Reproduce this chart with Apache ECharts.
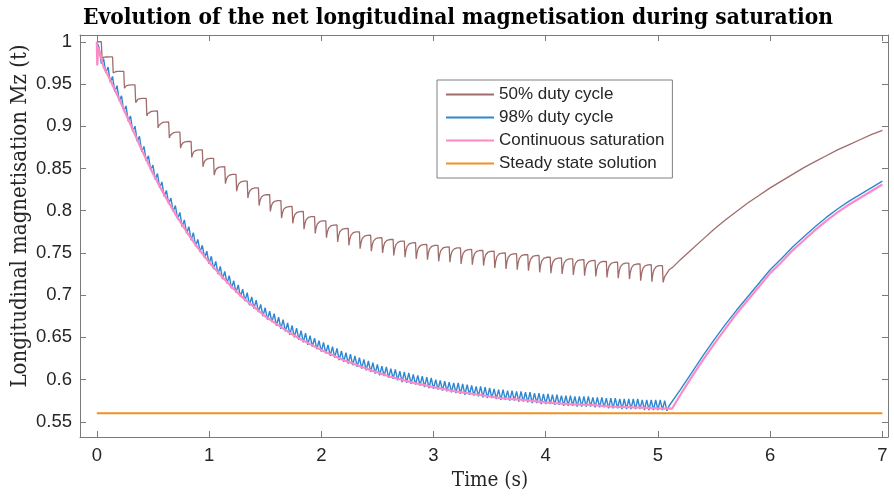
<!DOCTYPE html>
<html>
<head>
<meta charset="utf-8">
<script src="https://cdn.jsdelivr.net/npm/echarts@6/dist/echarts.min.js"></script>
<style>
  html, body { margin: 0; background: #fff; }
  #chart { width: 894px; height: 498px; }
</style>
</head>
<body>
<div id="chart"></div>
<script>
// 50% duty cycle: one saturation burst every 0.1 s, first one at 0.04 s
const duty50Start = 0.04
const duty50Period = 0.1
// level just before each burst
const duty50Tops = [
  1.0, 0.982, 0.965, 0.949, 0.933, 0.918, 0.905, 0.893, 0.882, 0.872,
  0.862, 0.852, 0.843, 0.835, 0.827, 0.819, 0.812, 0.805, 0.799, 0.793,
  0.788, 0.783, 0.779, 0.775, 0.771, 0.768, 0.766, 0.764, 0.762, 0.760,
  0.759, 0.757, 0.756, 0.754, 0.753, 0.752, 0.750, 0.749, 0.748, 0.747,
  0.745, 0.744, 0.743, 0.742, 0.741, 0.740, 0.739, 0.738, 0.737, 0.736,
  0.735
]
// level just after each burst
const duty50Bottoms = [
  0.981, 0.963, 0.945, 0.928, 0.912, 0.898, 0.886, 0.874, 0.863, 0.852,
  0.842, 0.832, 0.823, 0.815, 0.806, 0.799, 0.791, 0.785, 0.778, 0.773,
  0.768, 0.763, 0.759, 0.755, 0.752, 0.750, 0.747, 0.745, 0.743, 0.742,
  0.740, 0.739, 0.737, 0.736, 0.735, 0.732, 0.731, 0.730, 0.729, 0.727,
  0.726, 0.725, 0.724, 0.723, 0.722, 0.721, 0.720, 0.719, 0.717, 0.716,
  0.715
]
const duty50Recovery = [
  [5.06, 0.722], [5.1, 0.730], [5.14, 0.734], [5.2, 0.742], [5.3, 0.754],
  [5.4, 0.766], [5.5, 0.778], [5.6, 0.789], [5.7, 0.799], [5.8, 0.809],
  [5.9, 0.818], [6.0, 0.827], [6.1, 0.835], [6.2, 0.843], [6.3, 0.851],
  [6.4, 0.858], [6.5, 0.865], [6.6, 0.872], [6.7, 0.878], [6.8, 0.884],
  [6.9, 0.890], [7.0, 0.895]
]

// 98% duty cycle ripple: peaks at 0.02 + 0.04k, troughs at 0.04 + 0.04k
const ripplePeriod = 0.04
const duty98Peaks = [
  0.993, 0.980, 0.970, 0.959, 0.948, 0.936, 0.924, 0.912, 0.900, 0.888,
  0.876, 0.865, 0.854, 0.844, 0.834, 0.824, 0.815, 0.806, 0.798, 0.789,
  0.781, 0.774, 0.766, 0.759, 0.752, 0.746, 0.740, 0.734, 0.728, 0.723,
  0.717, 0.712, 0.707, 0.703, 0.698, 0.694, 0.689, 0.685, 0.681, 0.678,
  0.674, 0.671, 0.667, 0.664, 0.661, 0.658, 0.655, 0.652, 0.649, 0.646,
  0.644, 0.641, 0.639, 0.637, 0.634, 0.632, 0.630, 0.628, 0.626, 0.624,
  0.622, 0.620, 0.618, 0.616, 0.615, 0.613, 0.612, 0.610, 0.609, 0.608,
  0.606, 0.605, 0.604, 0.603, 0.602, 0.600, 0.599, 0.598, 0.597, 0.596,
  0.596, 0.595, 0.594, 0.593, 0.592, 0.592, 0.591, 0.590, 0.589, 0.588,
  0.588, 0.587, 0.587, 0.586, 0.586, 0.585, 0.585, 0.584, 0.584, 0.583,
  0.583, 0.582, 0.582, 0.581, 0.581, 0.581, 0.580, 0.580, 0.580, 0.580,
  0.579, 0.579, 0.579, 0.578, 0.578, 0.578, 0.577, 0.577, 0.577, 0.577,
  0.577, 0.576, 0.576, 0.576, 0.576, 0.576, 0.575
]
const duty98Troughs = [
  0.974, 0.963, 0.952, 0.941, 0.930, 0.918, 0.906, 0.894, 0.882, 0.870,
  0.859, 0.848, 0.837, 0.827, 0.817, 0.808, 0.799, 0.790, 0.781, 0.773,
  0.765, 0.758, 0.751, 0.744, 0.737, 0.731, 0.725, 0.719, 0.714, 0.708,
  0.703, 0.698, 0.693, 0.688, 0.684, 0.680, 0.675, 0.671, 0.668, 0.664,
  0.660, 0.657, 0.653, 0.650, 0.647, 0.644, 0.641, 0.639, 0.636, 0.633,
  0.631, 0.628, 0.626, 0.623, 0.621, 0.619, 0.617, 0.615, 0.613, 0.611,
  0.609, 0.607, 0.605, 0.604, 0.602, 0.601, 0.599, 0.597, 0.596, 0.595,
  0.594, 0.593, 0.591, 0.590, 0.589, 0.588, 0.587, 0.586, 0.585, 0.584,
  0.583, 0.582, 0.582, 0.581, 0.580, 0.579, 0.578, 0.578, 0.577, 0.576,
  0.576, 0.575, 0.575, 0.574, 0.574, 0.573, 0.572, 0.572, 0.571, 0.571,
  0.571, 0.570, 0.570, 0.569, 0.569, 0.569, 0.568, 0.568, 0.568, 0.568,
  0.567, 0.567, 0.567, 0.566, 0.566, 0.566, 0.565, 0.565, 0.565, 0.565,
  0.565, 0.564, 0.564, 0.564, 0.564, 0.564, 0.563
]
const duty98Recovery = [
  [5.10, 0.569], [5.2, 0.588], [5.3, 0.608], [5.4, 0.628], [5.5, 0.647],
  [5.6, 0.665], [5.7, 0.682], [5.8, 0.698], [5.9, 0.714], [6.0, 0.730],
  [6.1, 0.743], [6.2, 0.757], [6.3, 0.769], [6.4, 0.781], [6.5, 0.792],
  [6.6, 0.802], [6.7, 0.811], [6.8, 0.819], [6.9, 0.827], [7.0, 0.835]
]

// continuous saturation
const contTimes = [
  0, 0.004, 0.012, 0.06, 0.1, 0.2, 0.3, 0.4, 0.5, 0.6, 0.7, 0.8, 0.9, 1.0,
  1.1, 1.2, 1.3, 1.4, 1.5, 1.6, 1.7, 1.8, 1.9, 2.0, 2.2, 2.4, 2.6, 2.8, 3.0,
  3.2, 3.4, 3.6, 3.8, 4.0, 4.2, 4.4, 4.6, 4.8, 5.0, 5.125,
  5.2, 5.3, 5.4, 5.5, 5.6, 5.7, 5.8, 5.9, 6.0, 6.1,
  6.2, 6.3, 6.4, 6.5, 6.6, 6.7, 6.8, 6.9, 7.0
]
const contValues = [
  1.0, 0.972, 0.994, 0.970, 0.960, 0.932, 0.902, 0.872, 0.844, 0.819, 0.796, 0.775, 0.756, 0.739,
  0.724, 0.710, 0.697, 0.686, 0.675, 0.666, 0.657, 0.649, 0.642, 0.635, 0.623, 0.613, 0.604, 0.597, 0.591,
  0.586, 0.582, 0.578, 0.576, 0.573, 0.571, 0.570, 0.568, 0.567, 0.566, 0.5655,
  0.582, 0.603, 0.623, 0.642, 0.660, 0.678, 0.694, 0.710, 0.726, 0.739,
  0.753, 0.765, 0.777, 0.788, 0.798, 0.807, 0.815, 0.823, 0.831
]

const steadyState = 0.56
const xTicks = [0, 1, 2, 3, 4, 5, 6, 7]
const yTicks = [0.55, 0.6, 0.65, 0.7, 0.75, 0.8, 0.85, 0.9, 0.95, 1]

// shape of the recovery between bursts: [time after burst, fraction of the rise]
const riseShape = [[0.006, 0], [0.014, 0.45], [0.025, 0.75], [0.045, 0.93], [0.07, 0.99]]

const duty50 = [[0, 1.0]]
duty50Tops.forEach((top, k) => {
  const t = duty50Start + k * duty50Period
  const bottom = duty50Bottoms[k]
  duty50.push([t, top])
  if (k < duty50Tops.length - 1) {
    const next = duty50Tops[k + 1]
    riseShape.forEach(([dt, f]) => duty50.push([t + dt, bottom + f * (next - bottom)]))
  } else {
    duty50.push([t + 0.006, bottom])
  }
})
duty50.push(...duty50Recovery)

const duty98 = [[0, 1.0]]
duty98Peaks.forEach((p, k) => {
  duty98.push([ripplePeriod / 2 + k * ripplePeriod, p])
  duty98.push([ripplePeriod + k * ripplePeriod, duty98Troughs[k]])
})
duty98.push(...duty98Recovery)

const cont = contTimes.map((t, i) => [t, contValues[i]])
const steady = [[0, steadyState], [7, steadyState]]

const axisColor = '#7a7a7a'
const textColor = '#262626'
const sans = 'Liberation Sans, Arial, sans-serif'
const serif = 'DejaVu Serif Condensed, Liberation Serif, serif'

const chart = echarts.init(document.getElementById('chart'))

const baseX = {
  type: 'value', min: -0.15, max: 7.05,
  axisLine: { show: true, onZero: false, lineStyle: { color: axisColor, width: 1 } },
  axisTick: { show: true, inside: true, length: 6, customValues: xTicks, lineStyle: { color: axisColor } },
  splitLine: { show: false }
}
const baseY = {
  type: 'value', min: 0.532, max: 1.008,
  axisLine: { show: true, onZero: false, lineStyle: { color: axisColor, width: 1 } },
  axisTick: { show: true, inside: true, length: 6, customValues: yTicks, lineStyle: { color: axisColor } },
  splitLine: { show: false }
}

chart.setOption({
  animation: false,
  backgroundColor: '#fff',
  title: {
    text: 'Evolution of the net longitudinal magnetisation during saturation',
    left: 453, top: 2, textAlign: 'center',
    textStyle: { fontFamily: serif, fontWeight: 'bold', fontSize: 22.5, color: '#000' }
  },
  // y axis title, placed as in the original figure
  graphic: [{
    type: 'text', x: 20, y: 216, rotation: Math.PI / 2,
    style: {
      text: 'Longitudinal magnetisation Mz (t)', fill: textColor,
      font: '22px ' + serif, align: 'center', verticalAlign: 'middle'
    }
  }],
  legend: {
    orient: 'vertical', left: 437, top: 80,
    padding: [6, 8, 6, 8], itemWidth: 48, itemHeight: 16, itemGap: 6,
    borderColor: '#808080', borderWidth: 1, borderRadius: 0, backgroundColor: '#fff',
    itemStyle: { opacity: 0 },
    textStyle: { fontFamily: sans, fontSize: 17, color: textColor },
    data: ['50% duty cycle', '98% duty cycle', 'Continuous saturation', 'Steady state solution']
  },
  grid: { left: 80, right: 6, top: 35, bottom: 61, containLabel: false, outerBoundsMode: 'none' },
  xAxis: [
    Object.assign({}, baseX, {
      position: 'bottom',
      axisLabel: { customValues: xTicks, margin: 9, color: textColor, fontFamily: sans, fontSize: 18.5 },
      name: 'Time (s)', nameLocation: 'middle', nameGap: 30,
      nameTextStyle: { fontFamily: serif, fontSize: 20.5, color: textColor, padding: [0, 0, 0, 12] }
    }),
    Object.assign({}, baseX, { position: 'top', axisLabel: { show: false } })
  ],
  yAxis: [
    Object.assign({}, baseY, {
      position: 'left',
      axisLabel: { customValues: yTicks, margin: 8, color: textColor, fontFamily: sans, fontSize: 18.5 }
    }),
    Object.assign({}, baseY, { position: 'right', axisLabel: { show: false } })
  ],
  series: [
    { name: '50% duty cycle', type: 'line', data: duty50, symbol: 'none',
      lineStyle: { color: '#a06c6b', width: 1.3 }, itemStyle: { color: '#a06c6b' } },
    { name: '98% duty cycle', type: 'line', data: duty98, symbol: 'none',
      lineStyle: { color: '#2d87d2', width: 1.4 }, itemStyle: { color: '#2d87d2' } },
    { name: 'Continuous saturation', type: 'line', data: cont, symbol: 'none',
      lineStyle: { color: '#fb8ac6', width: 2.2 }, itemStyle: { color: '#fb8ac6' } },
    { name: 'Steady state solution', type: 'line', data: steady, symbol: 'none',
      lineStyle: { color: '#ee9224', width: 2 }, itemStyle: { color: '#ee9224' } }
  ]
})
</script>
</body>
</html>
